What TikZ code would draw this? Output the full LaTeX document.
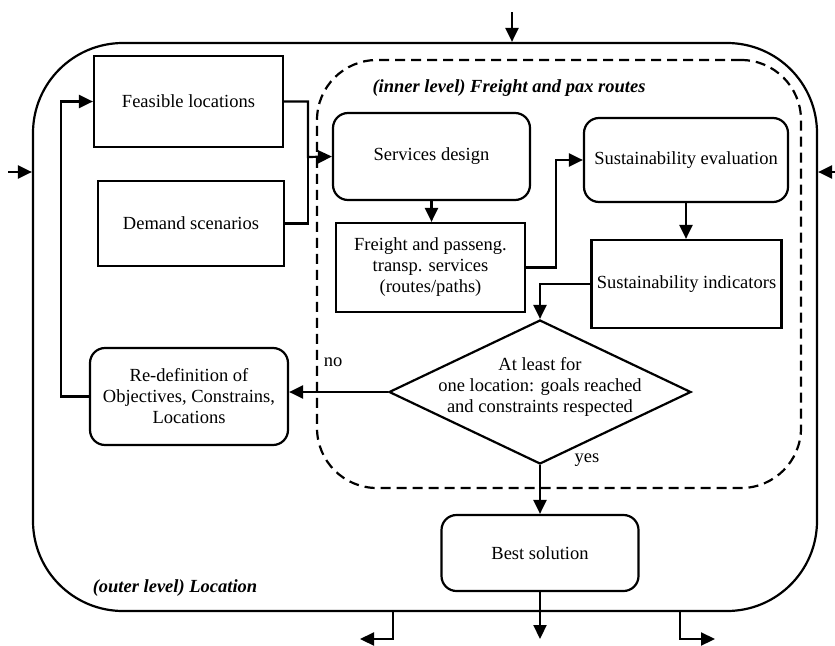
\documentclass[tikz,border=0pt]{standalone}
\usepackage{fontspec}
\setmainfont{Liberation Serif}
\usetikzlibrary{arrows.meta,shapes.geometric}

\def\TextFont{\fontsize{18.5pt}{21pt}\selectfont}

\begin{document}
\begin{tikzpicture}[x=1pt,y=-1pt,line width=2.2pt,
  every node/.style={font=\TextFont},
  box/.style={draw, rectangle, align=center, inner sep=2pt},
  rbox/.style={box, rounded corners=15pt},
  decision/.style={draw, diamond, inner sep=0pt, minimum width=302pt, minimum height=144pt},
  arr/.style={-{Triangle[length=14pt,width=13pt]}},
  innerline/.style={dash pattern=on 10pt off 6pt},
  leveltext/.style={font=\TextFont\bfseries\itshape}]
  \useasboundingbox (0,0) rectangle (835,645);

  % --- Frames ---
  \node[draw, rounded corners=90pt, minimum width=784pt, minimum height=568pt] (outer) at (425,327) {};
  \node[draw, innerline, rounded corners=60pt, minimum width=484pt, minimum height=428pt] (inner) at (559,274) {};
  \node[leveltext] (innerlbl) at (509,88) {(inner level) Freight and pax routes};
  \node[leveltext] (outerlbl) at (175,588) {(outer level) Location};

  % --- Boxes ---
  \node[box, minimum width=189pt, minimum height=91pt] (feas) at (188.5,101.5) {Feasible locations};
  \node[box, minimum width=186pt, minimum height=85pt] (demand) at (191,223.5) {Demand scenarios};
  \node[rbox, minimum width=197pt, minimum height=87pt] (design) at (431.5,156.5) {Services design};
  \node[box, minimum width=189pt, minimum height=89pt] (freight) at (430.5,267.5)
    {Freight and passeng.\\transp. services\\(routes/paths)};
  \node[rbox, minimum width=204pt, minimum height=84pt] (sueval) at (686,160) {Sustainability evaluation};
  \node[box, minimum width=190pt, minimum height=88pt] (suind) at (686.5,284) {Sustainability indicators};
  \node[decision] (goals) at (540,392)
    {\smash{\makebox[0pt]{\begin{tabular}{@{}c@{}}At least for\\one location: goals reached\\and constraints respected\end{tabular}}}};
  \node[rbox, minimum width=198pt, minimum height=97pt] (redef) at (189,396.5)
    {Re-definition of\\Objectives, Constrains,\\Locations};
  \node[rbox, minimum width=197pt, minimum height=76pt] (best) at (540,553) {Best solution};

  % --- Inputs and outputs ---
  \coordinate (inTop) at (512,12);
  \coordinate (inLeft) at (8,172);
  \coordinate (inRight) at (835,172);
  \coordinate (outL) at (360,639);
  \coordinate (outB) at (540,639);
  \coordinate (outR) at (715,639);
  \draw[arr] (inTop) -- (inTop |- outer.north);
  \draw[arr] (inLeft) -- (inLeft -| outer.west);
  \draw[arr] (inRight) -- (inRight -| outer.east);
  \draw[arr] ([xshift=-32pt]outer.south) |- (outL);
  \draw[arr] ([xshift=255pt]outer.south) |- (outR);
  \draw[arr] (best.south) -- (outB);

  % --- Connectors ---
  \coordinate (merge) at (308,157);
  \draw[arr] (feas.east) -| (merge) -- (design.west);
  \draw (demand.east) -| (merge);
  \draw[arr] (design.south) -- (design.south |- freight.north);
  \draw[arr] (freight.east) -- ++(30,0) |- (sueval.west);
  \draw[arr] (sueval.south) -- (sueval.south |- suind.north);
  \draw[arr] (suind.west) -| (goals.north);
  \draw[arr] (goals.west) -- (goals.west -| redef.east);
  \draw[arr] (redef.west) -- ++(-28,0) |- (feas.west);
  \draw[arr] (goals.south) -- (best.north);
  \node (no) at (333,362) {no};
  \node (yes) at (587,460) {yes};
\end{tikzpicture}
\end{document}
